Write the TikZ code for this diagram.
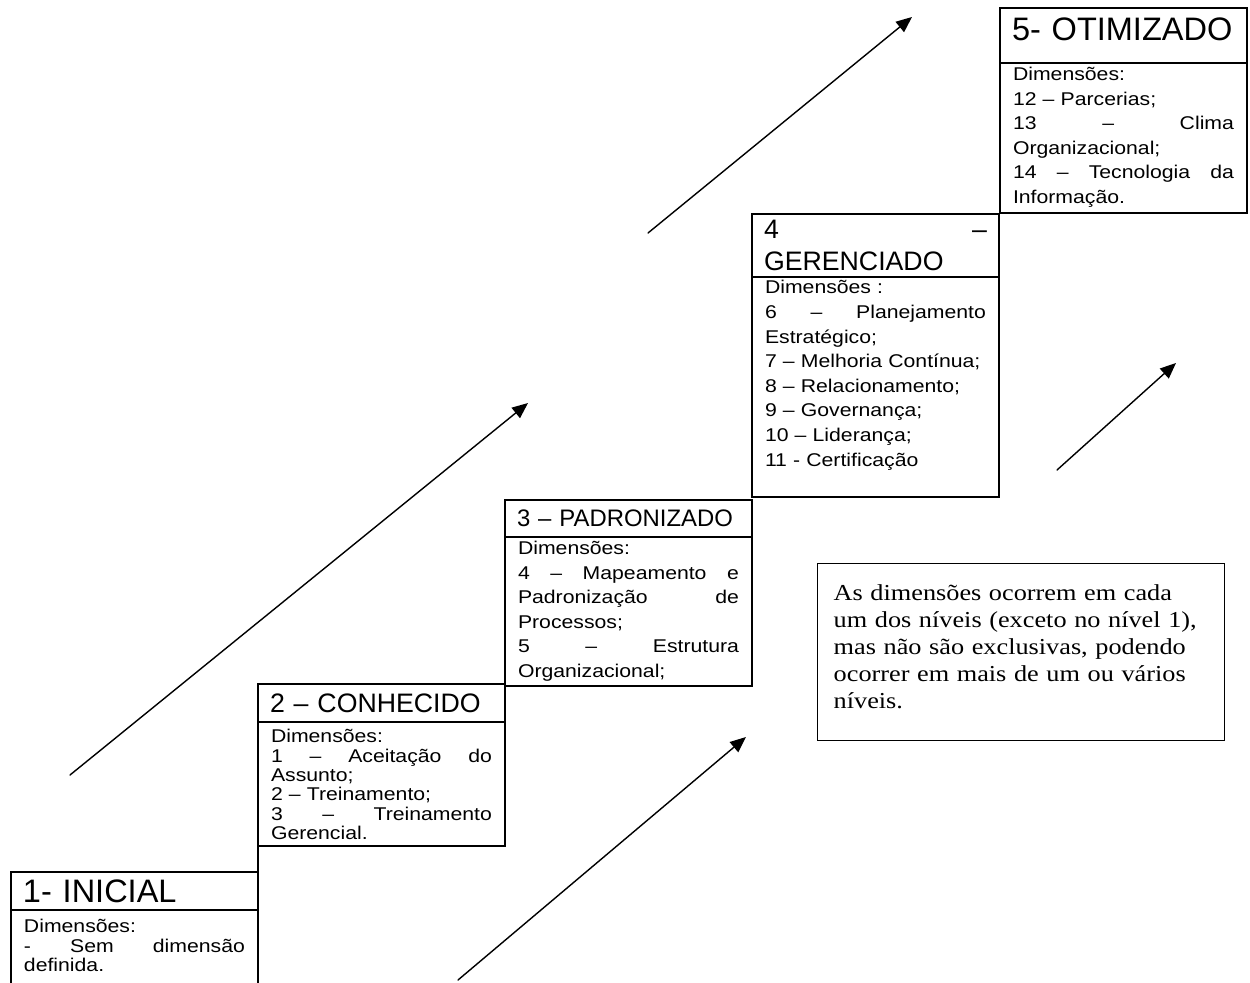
\documentclass[tikz,border=0pt]{standalone}
\usepackage{fontspec}
\setmainfont{Liberation Sans}
\newfontfamily\corpofont[FakeStretch=1.15]{Liberation Sans}
\newfontfamily\serifa[FakeStretch=1.15]{Liberation Serif}
\usepackage{tikz}
\usetikzlibrary{arrows.meta}
\newcommand\fcorpo[1]{\corpofont\fontsize{10.5}{#1}\selectfont\lineskiplimit=-20pt}
\newcommand\ftitulo[1]{\fontsize{#1}{18}\selectfont}
\newcommand\ftitulogr{\fontsize{18.5}{20}\selectfont}
\newcommand\fnota{\serifa\fontsize{13}{15.3}\selectfont\lineskiplimit=-20pt}

\begin{document}
\begin{tikzpicture}[line cap=round,>={Triangle[length=9pt,width=7.5pt]},x=0.02cm,y=-0.02cm,
  titulo/.style={draw, line width=1pt, outer sep=0pt, anchor=north west, text width=4.46cm, inner xsep=0.24cm, inner ysep=0pt, align=left, font=\ftitulo{15.2}},
  corpo/.style={draw, line width=1pt, outer sep=0pt, anchor=north west, text width=4.42cm, inner xsep=0.26cm, inner ysep=0pt, align=left, font=\fcorpo{11}},
  nota/.style={draw, line width=0.8pt, anchor=north west, text width=7.5cm, inner xsep=0.32cm, inner ysep=0pt, text height=0.74cm, text depth=2.8cm, align=left, font=\fnota},
  seta/.style={->, line width=0.8pt}]
\useasboundingbox (0,0) rectangle (1250,983);

% nivel 1
\node[titulo, font=\ftitulogr, minimum height=0.76cm] (t1) at (11,872) {1- INICIAL};
\node[corpo, draw=none, text height=0.46cm, text depth=1.0cm] (c1) at (t1.south west)
  {Dimensões:\\ - \hfill Sem \hfill dimensão\\ definida.};
\draw[line width=1pt] (c1.south west) -- (c1.north west) (c1.north east) -- (c1.south east);

% nivel 2
\node[titulo, minimum height=0.76cm] (t2) at (258,684) {2 – CONHECIDO};
\node[corpo, text height=0.42cm, text depth=2.06cm] (c2) at (t2.south west)
  {Dimensões:\\ 1 \hfill – \hfill Aceitação \hfill do\\ Assunto;\\ 2 – Treinamento;\\ 3 \hfill – \hfill Treinamento\\ Gerencial.};
\draw[line width=1pt] (c2.south west) -- (t1.north east);

% nivel 3
\node[titulo, font=\ftitulo{13.6}, minimum height=0.74cm] (t3) at (505,500) {3 – PADRONIZADO};
\node[corpo, font=\fcorpo{13.9}, text height=0.36cm, text depth=2.62cm] (c3) at (t3.south west)
  {Dimensões:\\ 4 \hfill – \hfill Mapeamento \hfill e\\ Padronização \hfill de\\ Processos;\\ 5 \hfill – \hfill Estrutura\\ Organizacional;};

% nivel 4
\node[titulo, minimum height=1.26cm] (t4) at (752,214) {4 \hfill –\\ GERENCIADO};
\node[corpo, font=\fcorpo{14}, text height=0.34cm, text depth=4.06cm] (c4) at (t4.south west)
  {Dimensões :\\ 6 \hfill – \hfill Planejamento\\ Estratégico;\\ 7 – Melhoria Contínua;\\ 8 – Relacionamento;\\ 9 – Governança;\\ 10 – Liderança;\\ 11 - Certificação};

% nivel 5
\node[titulo, font=\ftitulogr, minimum height=1.10cm, text depth=0.25cm] (t5) at (1000,8) {5- OTIMIZADO};
\node[corpo, font=\fcorpo{13.9}, text height=0.36cm, text depth=2.64cm] (c5) at (t5.south west)
  {Dimensões:\\ 12 – Parcerias;\\ 13 \hfill – \hfill Clima\\ Organizacional;\\ 14 \hfill – \hfill Tecnologia \hfill da\\ Informação.};

% observacao
\node[nota] (n) at (817,563)
  {As dimensões ocorrem em cada\\ um dos níveis (exceto no nível 1),\\ mas não são exclusivas, podendo\\ ocorrer em mais de um ou vários\\ níveis.};

% setas
\coordinate (s1) at (70,775);   \coordinate (e1) at (528,403);
\coordinate (s2) at (648,233);  \coordinate (e2) at (912,17);
\coordinate (s3) at (458,980);  \coordinate (e3) at (746,737);
\coordinate (s4) at (1057,470); \coordinate (e4) at (1176,363);
\draw[seta] (s1) -- (e1);
\draw[seta] (s2) -- (e2);
\draw[seta] (s3) -- (e3);
\draw[seta] (s4) -- (e4);

\end{tikzpicture}
\end{document}
